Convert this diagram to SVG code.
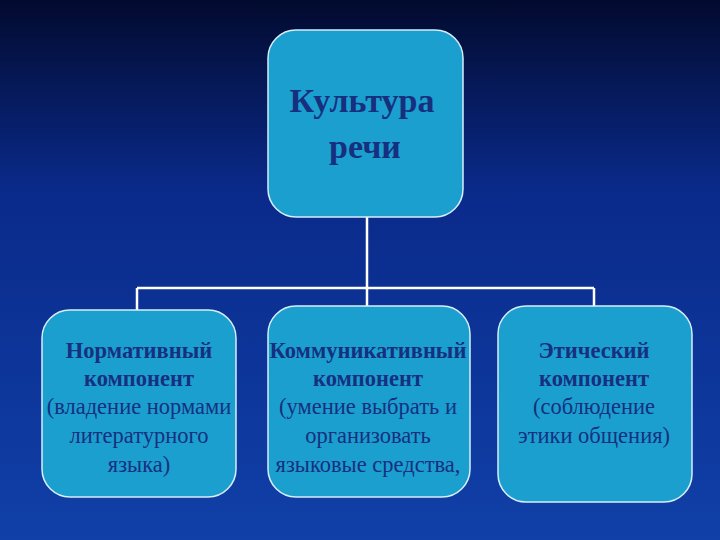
<svg xmlns="http://www.w3.org/2000/svg" width="720" height="540" viewBox="0 0 720 540">
<defs>
<linearGradient id="bg" x1="0" y1="0" x2="0" y2="1">
<stop offset="0" stop-color="#020a2e"/>
<stop offset="0.35" stop-color="#0a2a8a"/>
<stop offset="1" stop-color="#1040a8"/>
</linearGradient>
<style>
.box{fill:#1b9fcf;stroke:#d8eef8;stroke-width:1.5}
.ln{stroke:#ffffff;stroke-width:2.5;fill:none}
text{font-family:"Liberation Serif","DejaVu Serif",serif;fill:#16307f;text-anchor:middle}
.b{font-weight:bold}
.t{font-size:22.5px}
</style>
</defs>
<rect width="720" height="540" fill="url(#bg)"/>
<g id="connectors">
<path class="ln" d="M367 217 V288 M137 288 H594 M137 288 V310 M367 288 V306 M594 288 V306"/>
</g>
<g id="root">
<rect class="box" x="268" y="30" width="195" height="187" rx="28"/>
<text x="362" y="112" font-size="34" class="b">Культура</text>
<text x="365" y="158" font-size="34" class="b">речи</text>
</g>
<g id="normative">
<rect class="box" x="42" y="310" width="194" height="187" rx="28"/>
<text x="139" y="358" class="t b">Нормативный</text>
<text x="139" y="386" class="t b">компонент</text>
<text x="139" y="414" class="t">(владение нормами</text>
<text x="139" y="443" class="t">литературного</text>
<text x="139" y="472" class="t">языка)</text>
</g>
<g id="communicative">
<rect class="box" x="268" y="306" width="202" height="191" rx="28"/>
<text x="368" y="358" class="t b">Коммуникативный</text>
<text x="368" y="386" class="t b">компонент</text>
<text x="368" y="414" class="t">(умение выбрать и</text>
<text x="368" y="443" class="t">организовать</text>
<text x="368" y="472" class="t">языковые средства,</text>
</g>
<g id="ethical">
<rect class="box" x="498" y="306" width="194" height="196" rx="28"/>
<text x="594" y="358" class="t b">Этический</text>
<text x="594" y="386" class="t b">компонент</text>
<text x="594" y="414" class="t">(соблюдение</text>
<text x="594" y="443" class="t">этики общения)</text>
</g>
</svg>
